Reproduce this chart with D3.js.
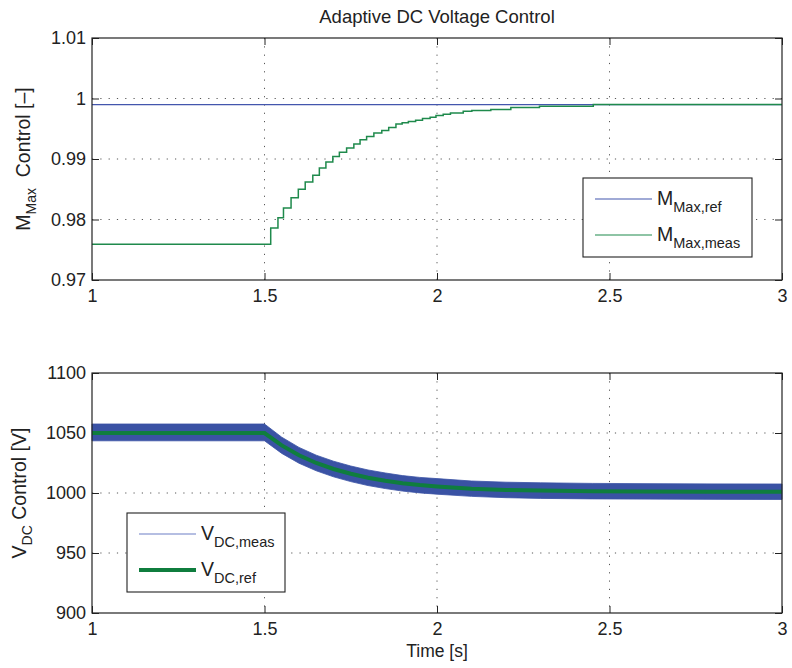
<!DOCTYPE html>
<html>
<head>
<meta charset="utf-8">
<script src="https://cdn.jsdelivr.net/npm/d3@7"></script>
<style>
  body { margin: 0; background: #fff; }
  svg { font-family: "Liberation Sans", Arial, Helvetica, sans-serif; }
  .tick text { font-size: 18px; fill: #222; }
</style>
</head>
<body>
<svg width="792" height="668"></svg>
<script>
// time axis ticks
const timeTicks = [1, 1.5, 2, 2.5, 3];
const timeLabels = ['1', '1.5', '2', '2.5', '3'];

// top plot: modulation index
const mTicks = [0.97, 0.98, 0.99, 1, 1.01];
const mLabels = ['0.97', '0.98', '0.99', '1', '1.01'];
const mRefTimes = [1, 3];
const mRef = [0.999, 0.999];
// measured M_max is a staircase, each value holds until the next time
const mStepTimes = [1, 1.518, 1.539, 1.555, 1.577, 1.598, 1.618, 1.640, 1.659, 1.678, 1.698,
  1.717, 1.738, 1.759, 1.777, 1.796, 1.817, 1.840, 1.860, 1.881, 1.899, 1.917, 1.938,
  1.958, 1.980, 1.997, 2.018, 2.039, 2.076, 2.101, 2.156, 2.214, 2.297, 2.453, 3];
const mMeas = [0.9759, 0.9786, 0.9803, 0.9819, 0.9836, 0.9850, 0.9862, 0.9873, 0.9885, 0.9895, 0.9904,
  0.9911, 0.9918, 0.9925, 0.9932, 0.9937, 0.9943, 0.9947, 0.9952, 0.9958, 0.9960, 0.9962, 0.9964,
  0.9967, 0.9969, 0.9972, 0.9974, 0.9976, 0.9979, 0.9980, 0.9982, 0.9985, 0.9987, 0.9990, 0.9990];

// bottom plot: DC voltage
const vTicks = [900, 950, 1000, 1050, 1100];
const vLabels = ['900', '950', '1000', '1050', '1100'];
const vTimes = [1, 1.5, 1.55, 1.6, 1.65, 1.7, 1.75, 1.8, 1.85, 1.9, 1.95, 2.0, 2.1, 2.2, 2.3, 2.45, 2.6, 2.8, 3];
const vRef = [1050, 1050, 1039.7, 1031.4, 1025, 1020, 1016, 1012.7, 1010.2, 1008.1, 1006.6, 1005.5,
  1003.6, 1002.5, 1002, 1001.5, 1001.3, 1001.1, 1001];
// measured voltage ripples fast; drawn as its upper / lower envelope
const vMeasHigh = [1057.5, 1057.5, 1046.5, 1038, 1031.5, 1026.5, 1022.5, 1019.2, 1016.7, 1014.5, 1013, 1012,
  1010, 1009, 1008.5, 1008, 1007.8, 1007.6, 1007.5];
const vMeasLow = [1043.5, 1043.5, 1033, 1024.8, 1018.5, 1013.5, 1009.5, 1006.2, 1003.7, 1001.6, 1000.1, 999,
  997.2, 996.1, 995.5, 995.1, 994.9, 994.7, 994.6];

const svg = d3.select('svg');
const left = 92, right = 782;
const topBox = { y0: 38, y1: 280 };
const botBox = { y0: 373, y1: 613 };

const x = d3.scaleLinear().domain([1, 3]).range([left, right]);
const yM = d3.scaleLinear().domain([0.97, 1.01]).range([topBox.y1, topBox.y0]);
const yV = d3.scaleLinear().domain([900, 1100]).range([botBox.y1, botBox.y0]);

function frame(box, y, yTicks, yLabels) {
  const g = svg.append('g');
  // dotted grid
  g.selectAll('.vg').data(timeTicks.slice(1, -1)).enter().append('line')
    .attr('x1', (d) => x(d)).attr('x2', (d) => x(d))
    .attr('y1', box.y0).attr('y2', box.y1)
    .attr('stroke', '#444').attr('stroke-width', 0.9).attr('stroke-dasharray', '1.2,7.1');
  g.selectAll('.hg').data(yTicks.slice(1, -1)).enter().append('line')
    .attr('x1', left).attr('x2', right)
    .attr('y1', (d) => y(d)).attr('y2', (d) => y(d))
    .attr('stroke', '#444').attr('stroke-width', 0.9).attr('stroke-dasharray', '1.2,7.1');

  const ax = svg.append('g');
  ax.append('g').attr('transform', `translate(0,${box.y1})`)
    .call(d3.axisBottom(x).tickValues(timeTicks).tickSize(-7).tickPadding(9)
      .tickFormat((d, i) => timeLabels[i]));
  ax.append('g').attr('transform', `translate(0,${box.y0})`)
    .call(d3.axisTop(x).tickValues(timeTicks).tickSize(-7).tickFormat(''));
  ax.append('g').attr('transform', `translate(${left},0)`)
    .call(d3.axisLeft(y).tickValues(yTicks).tickSize(-7).tickPadding(6)
      .tickFormat((d, i) => yLabels[i]));
  ax.append('g').attr('transform', `translate(${right},0)`)
    .call(d3.axisRight(y).tickValues(yTicks).tickSize(-7).tickFormat(''));
  ax.selectAll('.domain').remove();
  ax.selectAll('.tick line').attr('stroke', '#222');
  return ax;
}

function border(box) {
  svg.append('rect')
    .attr('x', left).attr('y', box.y0)
    .attr('width', right - left).attr('height', box.y1 - box.y0)
    .attr('fill', 'none').attr('stroke', '#222').attr('stroke-width', 1.2);
}

// text with a subscript part
function subText(g, main, sub, rest, size, subSize, shift) {
  const t = g.append('text').attr('font-size', size).attr('fill', '#222');
  t.append('tspan').text(main);
  t.append('tspan').attr('font-size', subSize).attr('dy', shift).text(sub);
  if (rest) t.append('tspan').attr('dy', -shift).text(rest);
  return t;
}

// ---------- top plot ----------
frame(topBox, yM, mTicks, mLabels);

const mRefLine = d3.line().x((d, i) => x(mRefTimes[i])).y((d) => yM(d));
svg.append('path').datum(mRef).attr('d', mRefLine)
  .attr('fill', 'none').attr('stroke', '#4356ad').attr('stroke-width', 1.3);

const mLine = d3.line().curve(d3.curveStepAfter)
  .x((d, i) => x(mStepTimes[i])).y((d) => yM(d));
svg.append('path').datum(mMeas).attr('d', mLine)
  .attr('fill', 'none').attr('stroke', '#1f8a4c').attr('stroke-width', 1.5);

border(topBox);

// ---------- bottom plot ----------
frame(botBox, yV, vTicks, vLabels);

const band = d3.area()
  .x((d, i) => x(vTimes[i]))
  .y0((d, i) => yV(vMeasLow[i]))
  .y1((d) => yV(d));
svg.append('path').datum(vMeasHigh).attr('d', band)
  .attr('fill', '#3a52a4').attr('stroke', '#3a52a4').attr('stroke-width', 0.8);

const vLine = d3.line().x((d, i) => x(vTimes[i])).y((d) => yV(d));
svg.append('path').datum(vRef).attr('d', vLine)
  .attr('fill', 'none').attr('stroke', '#0f7d3e').attr('stroke-width', 4);

border(botBox);

// ---------- titles and labels ----------
svg.append('text').attr('x', (left + right) / 2).attr('y', 23)
  .attr('text-anchor', 'middle').attr('font-size', 18.5).attr('fill', '#222')
  .text('Adaptive DC Voltage Control');

svg.append('text').attr('x', (left + right) / 2).attr('y', 657)
  .attr('text-anchor', 'middle').attr('font-size', 17.5).attr('fill', '#222')
  .text('Time [s]');

const yl1 = svg.append('g').attr('transform', `translate(30,${(topBox.y0 + topBox.y1) / 2}) rotate(-90)`);
subText(yl1, 'M', 'Max', '\u00a0\u00a0Control [\u2013]', 19.5, 14, 6).attr('text-anchor', 'middle');

const yl2 = svg.append('g').attr('transform', `translate(26,${(botBox.y0 + botBox.y1) / 2}) rotate(-90)`);
subText(yl2, 'V', 'DC', '\u00a0Control [V]', 19.5, 14, 6).attr('text-anchor', 'middle');

// ---------- legends ----------
const leg1 = svg.append('g');
leg1.append('rect').attr('x', 583).attr('y', 178).attr('width', 169).attr('height', 79)
  .attr('fill', '#fff').attr('stroke', '#222').attr('stroke-width', 1.1);
const leg1Items = [
  { sub: 'Max,ref', color: '#4356ad', w: 1.2 },
  { sub: 'Max,meas', color: '#1f8a4c', w: 1.2 },
];
leg1Items.forEach((d, i) => {
  const yy = 199 + i * 36;
  leg1.append('line').attr('x1', 595).attr('x2', 652).attr('y1', yy).attr('y2', yy)
    .attr('stroke', d.color).attr('stroke-width', d.w);
  subText(leg1.append('g').attr('transform', `translate(657,${yy + 6})`), 'M', d.sub, null, 19.5, 14.5, 7);
});

const leg2 = svg.append('g');
leg2.append('rect').attr('x', 127).attr('y', 513).attr('width', 158).attr('height', 79)
  .attr('fill', '#fff').attr('stroke', '#222').attr('stroke-width', 1.1);
const leg2Items = [
  { sub: 'DC,meas', color: '#6c7ec6', w: 1.2 },
  { sub: 'DC,ref', color: '#0f7d3e', w: 4 },
];
leg2Items.forEach((d, i) => {
  const yy = 534 + i * 36;
  leg2.append('line').attr('x1', 139).attr('x2', 196).attr('y1', yy).attr('y2', yy)
    .attr('stroke', d.color).attr('stroke-width', d.w);
  subText(leg2.append('g').attr('transform', `translate(201,${yy + 6})`), 'V', d.sub, null, 19.5, 14.5, 7);
});
</script>
</body>
</html>
